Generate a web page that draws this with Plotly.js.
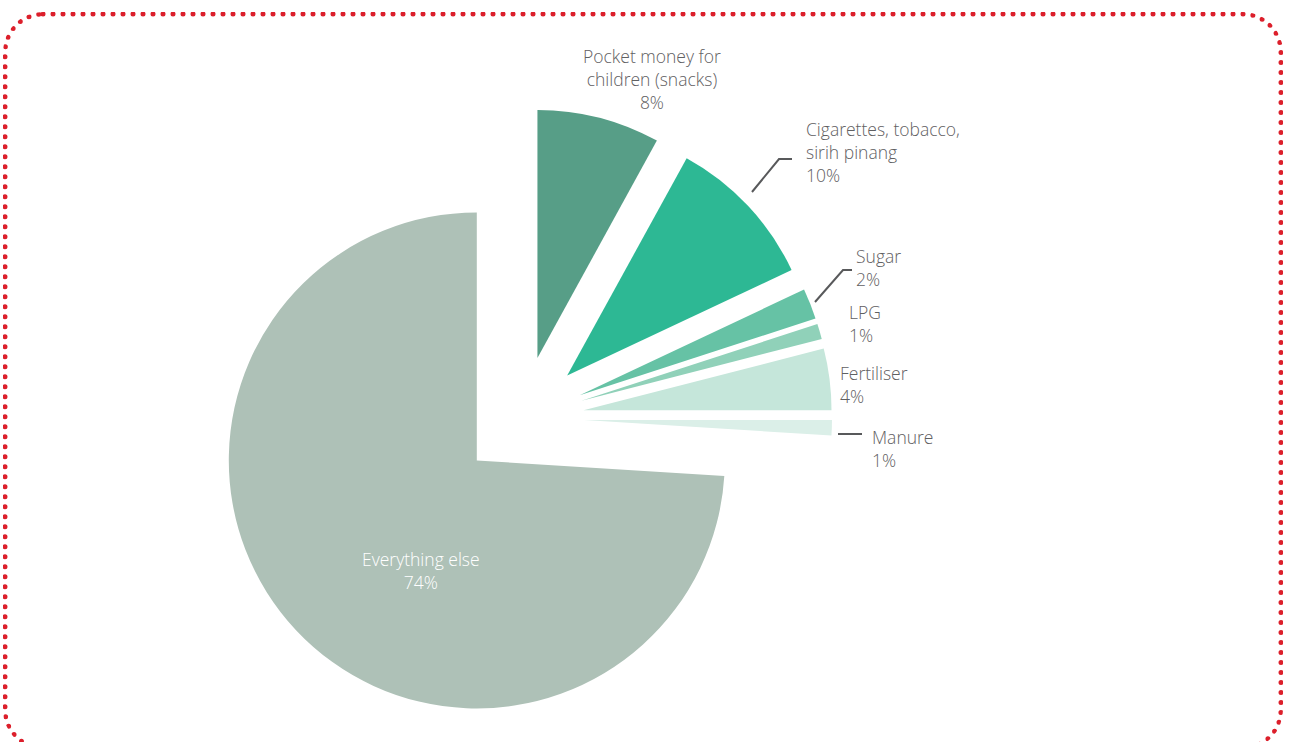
<!DOCTYPE html>
<html>
<head>
<meta charset="utf-8">
<script src="https://cdn.plot.ly/plotly-3.0.1.min.js"></script>
<style>
  html, body { margin: 0; padding: 0; background: #ffffff; overflow: hidden; }
  #chart { width: 1290px; height: 742px; }
  #frame {
    position: absolute; left: 3px; top: 12px; width: 1270px; height: 728px;
    border: 5px dotted #dc1f2b; border-radius: 40px; pointer-events: none;
  }
</style>
</head>
<body>
<div id="chart"></div>
<div id="frame"></div>
<script>
// ---- data ----
const categories = [
  "Pocket money for children (snacks)",
  "Cigarettes, tobacco, sirih pinang",
  "Sugar",
  "LPG",
  "Fertiliser",
  "Manure",
  "Everything else"
];
const shares = [8, 10, 2, 1, 4, 1, 74];
const labelTexts = [
  "Pocket money for<br>children (snacks)<br>8%",
  "Cigarettes, tobacco,<br>sirih pinang<br>10%",
  "Sugar<br>2%",
  "LPG<br>1%",
  "Fertiliser<br>4%",
  "Manure<br>1%",
  "Everything else<br>74%"
];
const sliceColors = ["#579e87", "#2db894", "#66c2a5", "#90d1b9", "#c5e6da", "#dbefe8", "#aec1b7"];

// ---- layout helpers ----
const W = 1290, H = 742;
const px = x => x / W;
const py = y => 1 - y / H;

// label anchor positions (pixels) and alignment
const labelPos = [
  {x: 652, y: 79,  xa: "center", al: "center"},
  {x: 804, y: 152, xa: "left",   al: "left"},
  {x: 854, y: 267, xa: "left",   al: "left"},
  {x: 847, y: 323, xa: "left",   al: "left"},
  {x: 838, y: 384, xa: "left",   al: "left"},
  {x: 870, y: 449, xa: "left",   al: "left"},
  {x: 421, y: 570, xa: "center", al: "center"}
];

const annotations = labelTexts.map((t, i) => ({
  text: t,
  x: px(labelPos[i].x), y: py(labelPos[i].y),
  xref: "paper", yref: "paper",
  xanchor: labelPos[i].xa, yanchor: "middle",
  align: labelPos[i].al,
  showarrow: false,
  font: {family: "'Open Sans', Lato, sans-serif", size: 17.5, weight: 300,
         color: i === 6 ? "#ffffff" : "#5f6062"}
}));

function pathPx(points) {
  return points.map((p, i) => (i ? "L" : "M") + px(p[0]) + "," + py(p[1])).join(" ");
}
const leaderLines = [
  [[752, 192], [779, 159], [792, 159]],
  [[815, 302], [843, 270], [852, 270]],
  [[838, 434], [862, 434]]
].map(pts => ({
  type: "path", xref: "paper", yref: "paper",
  path: pathPx(pts),
  line: {color: "#58595b", width: 2}
}));

const pullAmount = shares.map(() => 0.25);

const trace = {
  type: "pie",
  labels: categories,
  values: shares,
  sort: false,
  direction: "clockwise",
  rotation: 0,
  pull: pullAmount,
  textinfo: "none",
  hoverinfo: "label+percent",
  marker: {colors: sliceColors, line: {width: 0}},
  domain: {x: [(522 - 310) / W, (522 + 310) / W], y: [(324 - 310) / H, (324 + 310) / H]},
  showlegend: false
};

const layout = {
  width: W, height: H,
  margin: {l: 0, r: 0, t: 0, b: 0},
  paper_bgcolor: "#ffffff",
  showlegend: false,
  annotations: annotations,
  shapes: leaderLines
};

Plotly.newPlot("chart", [trace], layout, {displayModeBar: false, staticPlot: true});
</script>
</body>
</html>
